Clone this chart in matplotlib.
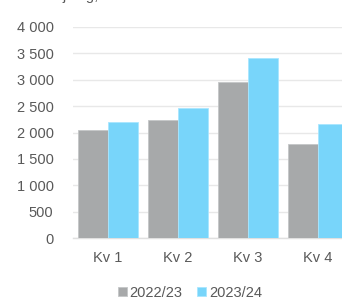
import matplotlib
matplotlib.use('Agg')
import matplotlib.pyplot as plt
import numpy as np

quarters = ["Kv 1", "Kv 2", "Kv 3", "Kv 4"]
season_a = "2022/23"
season_b = "2023/24"
values_a = [2050, 2230, 2950, 1780]
values_b = [2200, 2460, 3410, 2160]
yticks = [0, 500, 1000, 1500, 2000, 2500, 3000, 3500, 4000]

plt.rcParams['font.family'] = ['Liberation Sans', 'DejaVu Sans']
txt = '#595959'
gray = '#a7a9aa'
blue = '#78d5fa'
fs = 10.5

fig = plt.figure(figsize=(3.42, 3.0), dpi=100)
# plot area runs past the right edge of the picture, as in the original
ax = fig.add_axes([73/342, (300-238)/300, 280/342, 211/300])

x = np.arange(len(quarters))
w = 0.43
ax.bar(x - w/2, values_a, w, color=gray, edgecolor='#c4c6c7', linewidth=0.6, label=season_a, zorder=3)
ax.bar(x + w/2, values_b, w, color=blue, edgecolor='#a8e6ff', linewidth=0.6, label=season_b, zorder=3)

ax.set_xlim(-0.5, 3.5)
ax.set_ylim(0, 4000)
ax.set_yticks(yticks)
ax.set_yticklabels(["{:,}".format(v).replace(",", " ") for v in yticks])
ax.set_xticks(x)
ax.set_xticklabels(quarters)
ax.yaxis.grid(True, color='#e8e8e8', linewidth=1.0, zorder=0)
ax.tick_params(axis='both', length=0, labelsize=fs, labelcolor=txt)
ax.tick_params(axis='y', pad=14)
ax.tick_params(axis='x', pad=9)
for s in ['top', 'right', 'left']:
    ax.spines[s].set_visible(False)
ax.spines['bottom'].set_color('#e0e0e0')
ax.spines['bottom'].set_linewidth(1.0)

fig.legend(loc='center', bbox_to_anchor=(190/342, 1 - 293/300), ncol=2, frameon=False,
           fontsize=fs, labelcolor=txt, handlelength=0.6, handleheight=0.6,
           handletextpad=0.2, columnspacing=1.0)

# title line is cut off at the top of the picture
fig.text(22/342, 1.0, "Försäljning, Mkr", fontsize=fs, color=txt, va='baseline')

plt.savefig("out.png", dpi=100)
